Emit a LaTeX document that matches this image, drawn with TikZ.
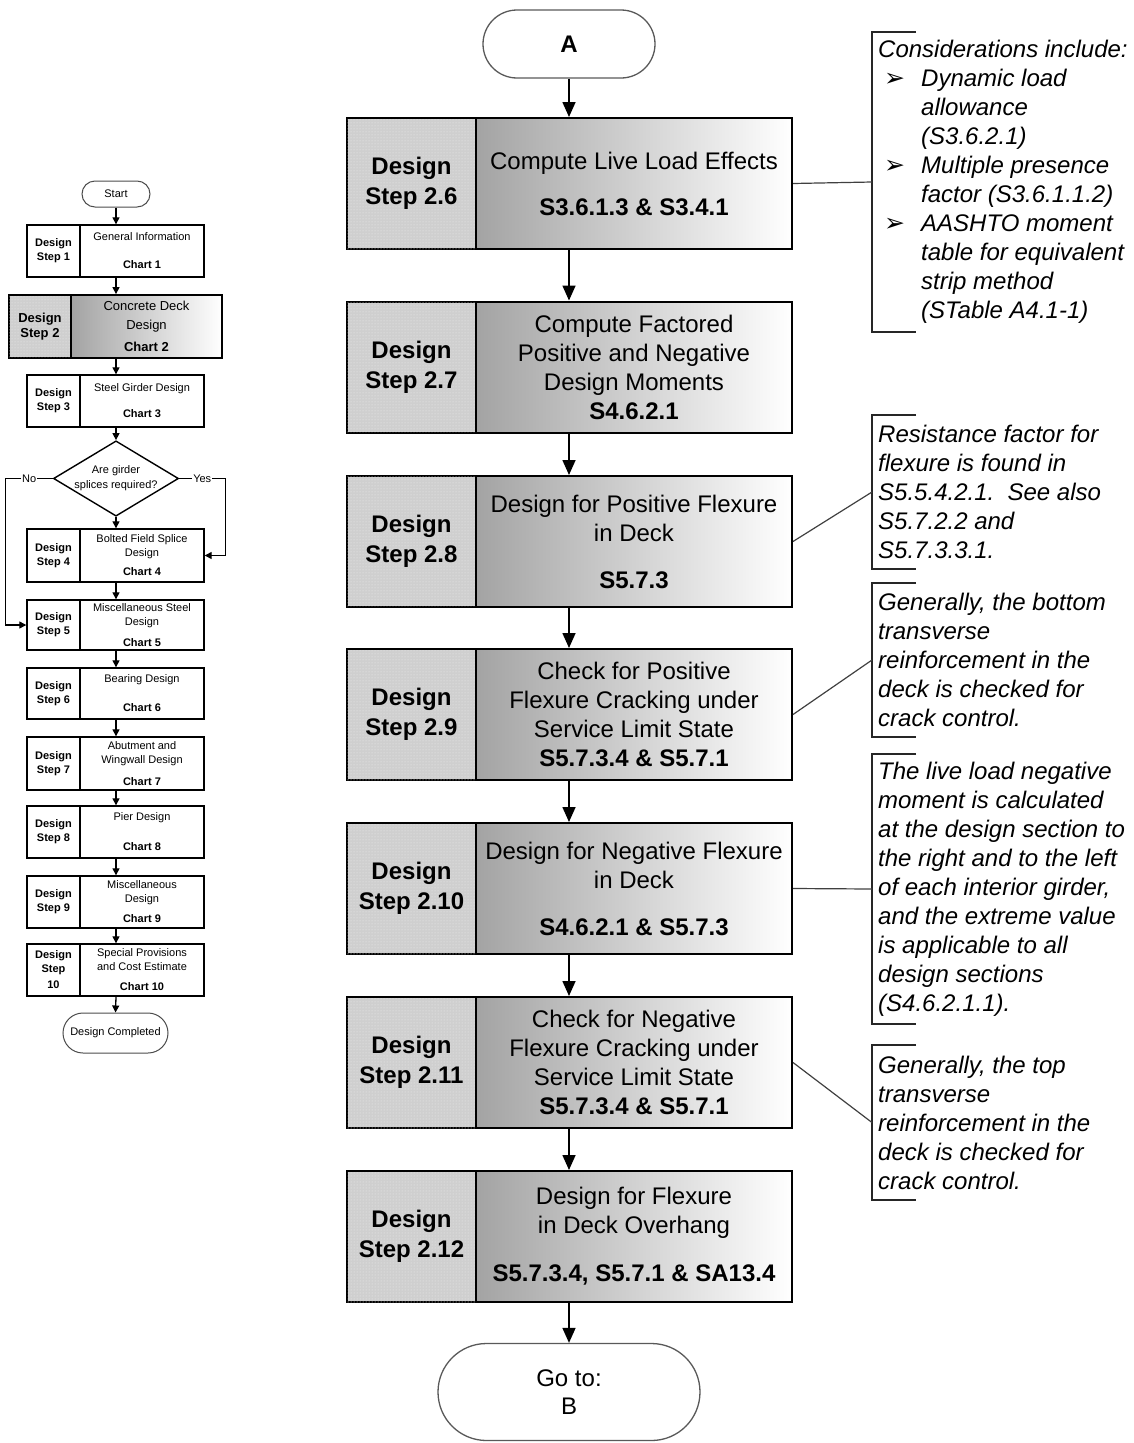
\documentclass[tikz,border=0pt]{standalone}
\usepackage{fontspec}
\setmainfont{Liberation Sans}
\newfontfamily\djv{DejaVu Sans}
\usetikzlibrary{shapes.geometric,shapes.misc,arrows.meta,calc,patterns}
\begin{document}
\begin{tikzpicture}[x=1pt,y=-1pt,
  lbox/.style={draw=black,line width=2pt,fill=black!19,postaction={pattern=dots,pattern color=black!6},minimum width=129pt,minimum height=131pt,inner sep=0pt,align=center,font=\fontsize{24}{30}\selectfont\bfseries},
  rbox/.style={draw=black,line width=2pt,left color=black!36,right color=white,minimum width=316pt,minimum height=131pt,inner sep=0pt,align=center,font=\fontsize{24}{29}\selectfont},
  term/.style={draw=black!65,line width=1.3pt,rounded rectangle,inner sep=0pt,align=center,font=\fontsize{24}{28}\selectfont},
  arr/.style={line width=1.6pt,-{Triangle[length=15pt,width=13pt]}},
  note/.style={anchor=west,inner xsep=6pt,inner ysep=0pt,align=left,font=\fontsize{24}{29}\selectfont\itshape},
  brk/.style={line width=1.5pt,black!85},
  conn/.style={line width=1.2pt,black!75},
  mleft/.style={draw=black,line width=1.4pt,minimum width=53pt,minimum height=52pt,inner sep=0pt,align=center,font=\fontsize{11}{14}\selectfont\bfseries},
  mright/.style={draw=black,line width=1.4pt,minimum width=124pt,minimum height=52pt,inner sep=0pt,align=center,font=\fontsize{11}{14}\selectfont},
  mterm/.style={draw=black!70,line width=1pt,rounded rectangle,inner sep=0pt,font=\fontsize{11}{14}\selectfont},
  marr/.style={line width=1.3pt,-{Triangle[length=7pt,width=7pt]}},
  mlab/.style={fill=white,inner sep=1pt,font=\fontsize{11}{13}\selectfont}
]
\useasboundingbox (0,0) rectangle (1133,1443);

% ---------------- main column ----------------
\node[term,font=\fontsize{24}{28}\selectfont\bfseries,minimum width=172pt,minimum height=68pt] (A) at (569,44) {A};

\node[lbox] (l26) at (411.5,183.5) {Design\\Step 2.6};
\node[rbox] (r26) at (634,183.5) {Compute Live Load Effects\\[17pt]\textbf{S3.6.1.3 \& S3.4.1}};

\node[lbox] (l27) at (411.5,367) {Design\\Step 2.7};
\node[rbox] (r27) at (634,367) {Compute Factored\\Positive and Negative\\Design Moments\\\textbf{S4.6.2.1}};

\node[lbox] (l28) at (411.5,541.5) {Design\\Step 2.8};
\node[rbox] (r28) at (634,541.5) {Design for Positive Flexure\\in Deck\\[18pt]\textbf{S5.7.3}};

\node[lbox] (l29) at (411.5,714.5) {Design\\Step 2.9};
\node[rbox] (r29) at (634,714.5) {Check for Positive\\Flexure Cracking under\\Service Limit State\\\textbf{S5.7.3.4 \& S5.7.1}};

\node[lbox] (l210) at (411.5,888.5) {Design\\Step 2.10};
\node[rbox] (r210) at (634,888.5) {Design for Negative Flexure\\in Deck\\[18pt]\textbf{S4.6.2.1 \& S5.7.3}};

\node[lbox] (l211) at (411.5,1062.5) {Design\\Step 2.11};
\node[rbox] (r211) at (634,1062.5) {Check for Negative\\Flexure Cracking under\\Service Limit State\\\textbf{S5.7.3.4 \& S5.7.1}};

\node[lbox] (l212) at (411.5,1236.5) {Design\\Step 2.12};
\node[rbox] (r212) at (634,1236.5) {Design for Flexure\\in Deck Overhang\\[19pt]\textbf{S5.7.3.4, S5.7.1 \& SA13.4}};

\node[term,minimum width=262pt,minimum height=97pt] (B) at (569,1392) {Go to:\\B};

\draw[arr] (A.south) -- (A.south |- r26.north);
\draw[arr] (A |- r26.south) -- (A |- r27.north);
\draw[arr] (A |- r27.south) -- (A |- r28.north);
\draw[arr] (A |- r28.south) -- (A |- r29.north);
\draw[arr] (A |- r29.south) -- (A |- r210.north);
\draw[arr] (A |- r210.south) -- (A |- r211.north);
\draw[arr] (A |- r211.south) -- (A |- r212.north);
\draw[arr] (A |- r212.south) -- (B.north);

% ---------------- notes ----------------
\node[note,minimum height=300pt] (n1) at (872,182) {%
\begin{tabular}{@{}p{43pt}@{}l@{}}
\multicolumn{2}{@{}l@{}}{Considerations include:}\\
\hspace*{6pt}{\djv\upshape\fontsize{25}{29}\selectfont ➢} & Dynamic load\\
 & allowance\\
 & (S3.6.2.1)\\
\hspace*{6pt}{\djv\upshape\fontsize{25}{29}\selectfont ➢} & Multiple presence\\
 & factor (S3.6.1.1.2)\\
\hspace*{6pt}{\djv\upshape\fontsize{25}{29}\selectfont ➢} & AASHTO moment\\
 & table for equivalent\\
 & strip method\\
 & (STable A4.1-1)
\end{tabular}};

\node[note,minimum height=154pt] (n2) at (872,492) {Resistance factor for\\flexure is found in\\S5.5.4.2.1.\ \ See also\\S5.7.2.2 and\\S5.7.3.3.1.};

\node[note,minimum height=154pt] (n3) at (872,660) {Generally, the bottom\\transverse\\reinforcement in the\\deck is checked for\\crack control.};

\node[note,minimum height=270pt] (n4) at (872,889) {The live load negative\\moment is calculated\\at the design section to\\the right and to the left\\of each interior girder,\\and the extreme value\\is applicable to all\\design sections\\(S4.6.2.1.1).};

\node[note,minimum height=155pt] (n5) at (872,1122.5) {Generally, the top\\transverse\\reinforcement in the\\deck is checked for\\crack control.};

\foreach \n in {n1,n2,n3,n4,n5}{
  \draw[brk] ([xshift=44pt]\n.north west) -- (\n.north west) -- (\n.south west) -- ([xshift=44pt]\n.south west);
}
\draw[conn] (r26.east) -- (n1.west);
\draw[conn] (r28.east) -- (n2.west);
\draw[conn] (r29.east) -- (n3.west);
\draw[conn] (r210.east) -- (n4.west);
\draw[conn] (r211.east) -- (n5.west);

% ---------------- mini overview chart ----------------
\node[mterm,minimum width=68pt,minimum height=26pt] (st) at (116,194) {Start};

\node[mleft] (ml1) at (53.5,251) {Design\\Step 1};
\node[mright] (mr1) at (142,251) {General Information\\[14pt]\textbf{Chart 1}};

\node[mleft,minimum width=62pt,minimum height=63pt,fill=black!19,postaction={pattern=dots,pattern color=black!6},line width=1.8pt,font=\fontsize{13}{15}\selectfont\bfseries] (ml2) at (40,326.5) {Design\\Step 2};
\node[mright,minimum width=151pt,minimum height=63pt,left color=black!36,right color=white,line width=1.8pt,font=\fontsize{13}{19}\selectfont] (mr2) at (146.5,326.5) {Concrete Deck\\Design\\[3pt]\textbf{Chart 2}};

\node[mleft] (ml3) at (53.5,401) {Design\\Step 3};
\node[mright] (mr3) at (142,401) {Steel Girder Design\\[12pt]\textbf{Chart 3}};

\node[draw=black,line width=1.4pt,shape=diamond,aspect=1.66,minimum width=118pt,minimum height=71pt,inner sep=0pt,align=center,font=\fontsize{11}{15}\selectfont] (dia) at (116,478.5) {Are girder\\splices required?};

\node[mleft,minimum height=53pt] (ml4) at (53.5,555.5) {Design\\Step 4};
\node[mright,minimum height=53pt] (mr4) at (142,555.5) {Bolted Field Splice\\Design\\[5pt]\textbf{Chart 4}};

\node[mleft,minimum height=50pt] (ml5) at (53.5,625) {Design\\Step 5};
\node[mright,minimum height=50pt] (mr5) at (142,625) {Miscellaneous Steel\\Design\\[7pt]\textbf{Chart 5}};

\node[mleft,minimum height=51pt] (ml6) at (53.5,693.5) {Design\\Step 6};
\node[mright,minimum height=51pt] (mr6) at (142,693.5) {Bearing Design\\[15pt]\textbf{Chart 6}};

\node[mleft,minimum height=53pt] (ml7) at (53.5,763.5) {Design\\Step 7};
\node[mright,minimum height=53pt] (mr7) at (142,763.5) {Abutment and\\Wingwall Design\\[8pt]\textbf{Chart 7}};

\node[mleft] (ml8) at (53.5,832) {Design\\Step 8};
\node[mright] (mr8) at (142,832) {Pier Design\\[16pt]\textbf{Chart 8}};

\node[mleft] (ml9) at (53.5,902) {Design\\Step 9};
\node[mright] (mr9) at (142,902) {Miscellaneous\\Design\\[6pt]\textbf{Chart 9}};

\node[mleft,font=\fontsize{11}{13.5}\selectfont\bfseries] (ml10) at (53.5,970) {Design\\Step\\[3pt]10};
\node[mright] (mr10) at (142,970) {Special Provisions\\and Cost Estimate\\[6pt]\textbf{Chart 10}};

\node[mterm,minimum width=105pt,minimum height=40pt] (dc) at (115.5,1033) {Design Completed};

\draw[marr] (st.south) -- (st.south |- mr1.north);
\draw[marr] (st |- mr1.south) -- (st |- mr2.north);
\draw[marr] (st |- mr2.south) -- (st |- mr3.north);
\draw[marr] (st |- mr3.south) -- (dia.north);
\draw[marr] (dia.south) -- (dia.south |- mr4.north);
\draw[marr] (st |- mr4.south) -- (st |- mr5.north);
\draw[marr] (st |- mr5.south) -- (st |- mr6.north);
\draw[marr] (st |- mr6.south) -- (st |- mr7.north);
\draw[marr] (st |- mr7.south) -- (st |- mr8.north);
\draw[marr] (st |- mr8.south) -- (st |- mr9.north);
\draw[marr] (st |- mr9.south) -- (st |- mr10.north);
\draw[marr] (st |- mr10.south) -- (dc.north);

\draw[marr] (dia.west) -- node[mlab] {No} ++(-47,0) |- (ml5.west);
\draw[marr] (dia.east) -- node[mlab] {Yes} ++(46,0) |- (mr4.east);

\end{tikzpicture}
\end{document}
